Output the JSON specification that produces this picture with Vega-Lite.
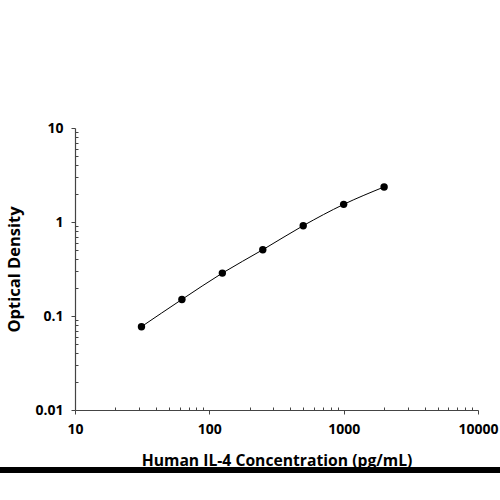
{
  "$schema": "https://vega.github.io/schema/vega-lite/v6.json",
  "width": 403,
  "height": 282,
  "autosize": {"type": "none"},
  "padding": {"left": 75, "top": 128, "right": 22, "bottom": 90},
  "background": "white",
  "config": {"view": {"stroke": null}, "font": "Open Sans"},
  "data": {
    "values": [
      {"conc": 31.25, "od": 0.077},
      {"conc": 62.5, "od": 0.150},
      {"conc": 125, "od": 0.286},
      {"conc": 250, "od": 0.507},
      {"conc": 500, "od": 0.914},
      {"conc": 1000, "od": 1.54},
      {"conc": 2000, "od": 2.36}
    ]
  },
  "encoding": {
    "x": {
      "field": "conc",
      "type": "quantitative",
      "scale": {"type": "log", "domain": [10, 10000], "nice": false},
      "axis": {
        "title": "Human IL-4 Concentration (pg/mL)",
        "values": [10,20,30,40,50,60,70,80,90,100,200,300,400,500,600,700,800,900,1000,2000,3000,4000,5000,6000,7000,8000,9000,10000],
        "format": "~g",
        "labelExpr": "abs(log(datum.value)/LN10 - round(log(datum.value)/LN10)) < 0.001 ? datum.label : ''",
        "labelOverlap": false,
        "labelFlush": false,
        "grid": false,
        "tickSize": {"condition": {"test": "abs(log(datum.value)/LN10 - round(log(datum.value)/LN10)) < 0.001", "value": 4}, "value": -3},
        "tickColor": "#444",
        "domainColor": "#444",
        "domainWidth": 1.2,
        "labelFont": "Open Sans",
        "labelFontWeight": "bold",
        "labelFontSize": 14,
        "labelColor": "black",
        "labelPadding": 8,
        "titleFont": "Open Sans",
        "titleFontWeight": "bold",
        "titleFontSize": 15.7,
        "titleColor": "black",
        "titlePadding": 17
      }
    },
    "y": {
      "field": "od",
      "type": "quantitative",
      "scale": {"type": "log", "domain": [0.01, 10], "nice": false},
      "axis": {
        "title": "Optical Density",
        "values": [0.01,0.02,0.03,0.04,0.05,0.06,0.07,0.08,0.09,0.1,0.2,0.3,0.4,0.5,0.6,0.7,0.8,0.9,1,2,3,4,5,6,7,8,9,10],
        "format": "~g",
        "labelExpr": "abs(log(datum.value)/LN10 - round(log(datum.value)/LN10)) < 0.001 ? datum.label : ''",
        "labelOverlap": false,
        "labelFlush": false,
        "grid": false,
        "tickSize": {"condition": {"test": "abs(log(datum.value)/LN10 - round(log(datum.value)/LN10)) < 0.001", "value": 4}, "value": -3},
        "tickColor": "#444",
        "domainColor": "#444",
        "domainWidth": 1.2,
        "labelFont": "Open Sans",
        "labelFontWeight": "bold",
        "labelFontSize": 14,
        "labelColor": "black",
        "labelPadding": 8,
        "titleFont": "Open Sans",
        "titleFontWeight": "bold",
        "titleFontSize": 16.5,
        "titleColor": "black",
        "titlePadding": 12
      }
    }
  },
  "layer": [
    {"mark": {"type": "line", "interpolate": "monotone", "color": "black", "strokeWidth": 1}},
    {"mark": {"type": "circle", "size": 55, "color": "black", "opacity": 1}},
    {
      "mark": {"type": "rule", "clip": false, "color": "black", "strokeWidth": 5},
      "encoding": {
        "x": {"datum": 1},
        "x2": {"datum": 100000},
        "y": {"datum": 0.0023}
      }
    }
  ]
}
